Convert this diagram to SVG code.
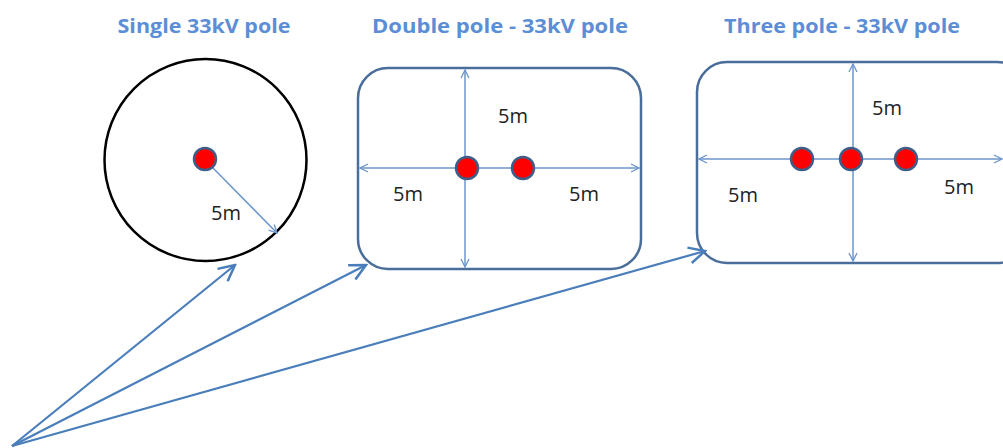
<svg xmlns="http://www.w3.org/2000/svg" width="1003" height="448" viewBox="0 0 1003 448">
<defs>
<marker id="dim" viewBox="0 0 10 10" refX="9" refY="5" markerWidth="10" markerHeight="10" markerUnits="userSpaceOnUse" orient="auto-start-reverse">
<path d="M1,1 L9,5 L1,9" fill="none" stroke="#6B95CC" stroke-width="1.3"/>
</marker>
<marker id="big" viewBox="0 0 20 20" refX="18" refY="10" markerWidth="20" markerHeight="20" markerUnits="userSpaceOnUse" orient="auto">
<path d="M2,2 L18,10 L2,18" fill="none" stroke="#4A7EBB" stroke-width="2.5"/>
</marker>
</defs>
<style>
.title{font-family:"Open Sans","Liberation Sans",Arial,sans-serif;font-weight:bold;font-size:19px;fill:#5B8ED6;text-anchor:middle}
.lbl{font-family:"Open Sans","Liberation Sans",sans-serif;font-size:20px;fill:#222}
.box{fill:#fff;stroke:#4A6D9A;stroke-width:2.5}
.dim{fill:none;stroke:#6B95CC;stroke-width:1.5}
.pole{fill:#FF0000;stroke:#3E5E88;stroke-width:2.5}
.conn{fill:none;stroke:#4A7EBB;stroke-width:2.2}
</style>
<text class="title" x="204" y="33" textLength="173" lengthAdjust="spacingAndGlyphs">Single 33kV pole</text>
<text class="title" x="500" y="33" textLength="256" lengthAdjust="spacingAndGlyphs">Double  pole - 33kV pole</text>
<text class="title" x="842" y="33" textLength="236" lengthAdjust="spacingAndGlyphs">Three pole - 33kV pole</text>

<g id="single">
<circle cx="205.5" cy="160" r="101" fill="#fff" stroke="#000" stroke-width="2.5"/>
<line class="dim" x1="212" y1="167" x2="277" y2="233" marker-end="url(#dim)"/>
<circle class="pole" cx="205" cy="159" r="11"/>
<text class="lbl" x="211" y="220">5m</text>
</g>

<g id="double">
<rect class="box" x="358" y="68" width="283" height="201" rx="30"/>
<line class="dim" x1="465" y1="70" x2="465" y2="267" marker-start="url(#dim)" marker-end="url(#dim)"/>
<line class="dim" x1="360" y1="168" x2="639" y2="168" marker-start="url(#dim)" marker-end="url(#dim)"/>
<circle class="pole" cx="467" cy="168" r="11"/>
<circle class="pole" cx="523" cy="168" r="11"/>
<text class="lbl" x="498" y="123">5m</text>
<text class="lbl" x="393" y="201">5m</text>
<text class="lbl" x="569" y="201">5m</text>
</g>

<g id="three">
<rect class="box" x="697" y="62" width="330" height="201" rx="30"/>
<line class="dim" x1="853" y1="64" x2="853" y2="261" marker-start="url(#dim)" marker-end="url(#dim)"/>
<line class="dim" x1="699" y1="159" x2="1002" y2="159" marker-start="url(#dim)" marker-end="url(#dim)"/>
<circle class="pole" cx="802" cy="159" r="11"/>
<circle class="pole" cx="851" cy="159" r="11"/>
<circle class="pole" cx="906" cy="159" r="11"/>
<text class="lbl" x="872" y="115">5m</text>
<text class="lbl" x="728" y="202">5m</text>
<text class="lbl" x="944" y="194">5m</text>
</g>

<g id="connectors">
<line class="conn" x1="12" y1="446" x2="235" y2="265" marker-end="url(#big)"/>
<line class="conn" x1="12" y1="446" x2="366" y2="265" marker-end="url(#big)"/>
<line class="conn" x1="12" y1="446" x2="705" y2="251" marker-end="url(#big)"/>
</g>
</svg>
